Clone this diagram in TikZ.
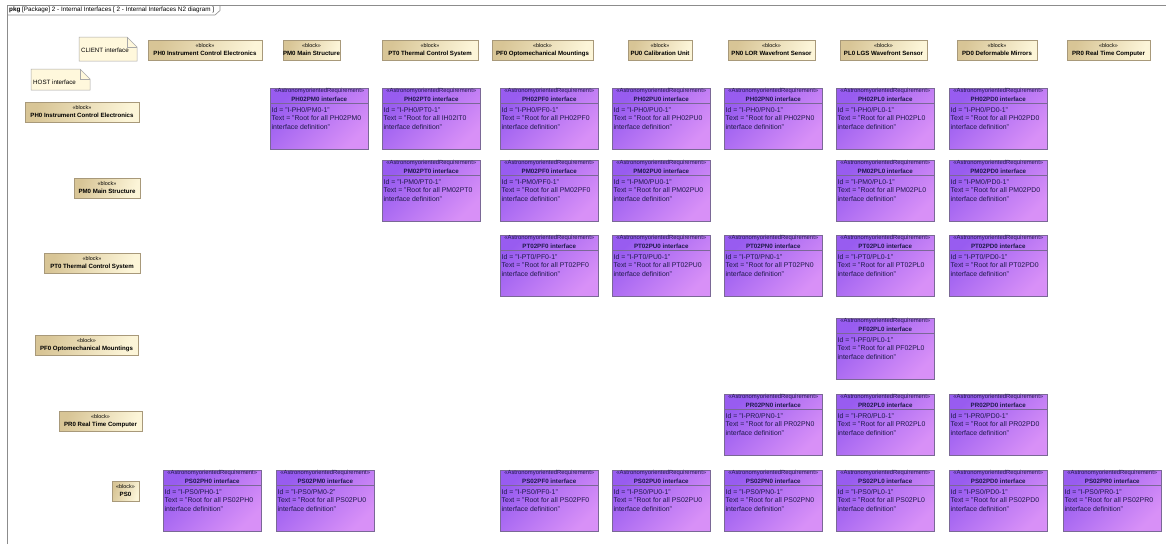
\documentclass[tikz,border=0pt]{standalone}
\usepackage{fontspec}
\setmainfont{Liberation Sans}
\usetikzlibrary{shadows,calc}
\definecolor{reqA}{HTML}{985CF0}
\definecolor{reqB}{HTML}{D890F7}
\definecolor{reqEdge}{HTML}{7A6896}
\definecolor{reqInk}{HTML}{1E1A4A}
\definecolor{blkA}{HTML}{D8C596}
\definecolor{blkB}{HTML}{FCF5D8}
\definecolor{blkEdge}{HTML}{A8997A}
\definecolor{noteFill}{HTML}{FFF8DC}
\definecolor{noteEdge}{HTML}{A8A8A8}
\definecolor{frameEdge}{HTML}{8C8C8C}
\tikzset{
  req/.style={rectangle, draw=reqEdge, line width=0.5pt, top color=reqA, bottom color=reqB, shading angle=45,
    minimum width=98pt, minimum height=61pt, inner sep=0pt,
    drop shadow={shadow xshift=1.2pt, shadow yshift=-1.2pt, fill=black, opacity=0.3}},
  reqst/.style={inner sep=0pt, text=reqInk, font=\fontsize{5.9}{7}\selectfont},
  reqnm/.style={inner sep=0pt, text=reqInk, font=\fontsize{6.2}{7}\selectfont\bfseries},
  reqbd/.style={inner sep=0pt, text=reqInk, font=\fontsize{6.9}{8}\selectfont},
  reqsep/.style={draw=reqEdge, line width=0.5pt},
  blk/.style={rectangle, draw=blkEdge, line width=0.5pt, left color=blkA, right color=blkB, shading angle=70,
    inner sep=0pt, drop shadow={shadow xshift=1.2pt, shadow yshift=-1.2pt, fill=black, opacity=0.3}},
  blkst/.style={inner sep=0pt, font=\fontsize{5.4}{6}\selectfont},
  blknm/.style={inner sep=0pt, font=\fontsize{6.1}{7}\selectfont\bfseries},
  notepath/.style={draw=noteEdge, fill=noteFill, line width=0.5pt},
  notetx/.style={inner sep=0pt, font=\fontsize{6.2}{7}\selectfont},
  framepath/.style={draw=frameEdge, line width=0.6pt},
  frametx/.style={inner sep=0pt, font=\fontsize{6.3}{7}\selectfont},
}
\newcommand\ReqBox[6]{%
  \node[req, anchor=north west] (#1) at (#2,#3) {};
  \node[reqst, anchor=base] (#1-s) at ([yshift=-4.6pt]#1.north) {«AstronomyorientedRequirement»};
  \node[reqnm, anchor=base] (#1-n) at ([yshift=-13pt]#1.north) {#4 interface};
  \draw[reqsep] ([yshift=-15.5pt]#1.north west) -- ([yshift=-15.5pt]#1.north east);
  \node[reqbd, anchor=base west] (#1-a) at ([xshift=1.5pt,yshift=-24pt]#1.north west) {Id = "#5"};
  \node[reqbd, anchor=base west] (#1-b) at ([xshift=1.5pt,yshift=-32.5pt]#1.north west) {Text = "Root for all #6};
  \node[reqbd, anchor=base west] (#1-c) at ([xshift=1.5pt,yshift=-41pt]#1.north west) {interface definition"};
}
\newcommand\BlockBox[6]{%
  \node[blk, minimum width={(#4-#2)*1pt}, minimum height={(#5-#3)*1pt}] (#1) at ({(#2+#4)/2},{(#3+#5)/2}) {};
  \node[blkst, anchor=base] (#1-s) at ([yshift=-7.4pt]#1.north) {«block»};
  \node[blknm, anchor=base] (#1-n) at ([yshift=-15.6pt]#1.north) {#6};
}
\newcommand\NoteBox[7]{%
  \path[notepath] (#2,#3) -- ({#4-10},#3) -- (#4,{#3+10}) -- (#4,#5) -- (#2,#5) -- cycle;
  \draw[draw=noteEdge, line width=0.5pt] ({#4-10},#3) -- ({#4-10},{#3+10}) -- (#4,{#3+10});
  \node[notetx, anchor=west] (#1) at ({#2+2},#7) {#6};
}
\begin{document}
\begin{tikzpicture}[x=1pt,y=-1pt]
\useasboundingbox (0,0) rectangle (1166,544);
\fill[white] (0,0) rectangle (1166,544);
% frame
\draw[framepath] (7,544) -- (7,5) -- (1166,5);
\draw[framepath] (7,15) -- (215,15) -- (220,10.5) -- (220,5);
\node[frametx, anchor=west] (frametitle) at (9,10.3) {\textbf{pkg} [Package] 2 - Internal Interfaces [ 2 - Internal Interfaces  N2 diagram ]};
% notes
\NoteBox{client}{79}{37}{137}{61}{CLIENT interface}{50}
\NoteBox{host}{31}{69}{90}{90}{HOST interface}{82}
% column headers
\BlockBox{cPH}{148}{40}{262}{60}{PH0 Instrument Control Electronics}
\BlockBox{cPM}{283}{40}{340}{60}{PM0 Main Structure}
\BlockBox{cPT}{382}{40}{478}{60}{PT0 Thermal Control System}
\BlockBox{cPF}{492}{40}{593}{60}{PF0 Optomechanical Mountings}
\BlockBox{cPU}{628}{40}{692}{60}{PU0 Calibration Unit}
\BlockBox{cPN}{728}{40}{815}{60}{PN0 LOR Wavefront Sensor}
\BlockBox{cPL}{840}{40}{927}{60}{PL0 LGS Wavefront Sensor}
\BlockBox{cPD}{957}{40}{1037}{60}{PD0 Deformable Mirrors}
\BlockBox{cPR}{1067}{40}{1150}{60}{PR0 Real Time Computer}
% row headers
\BlockBox{rPH}{25}{102}{139}{122}{PH0 Instrument Control Electronics}
\BlockBox{rPM}{74}{178}{140}{198}{PM0 Main Structure}
\BlockBox{rPT}{44}{253}{140}{273}{PT0 Thermal Control System}
\BlockBox{rPF}{35}{335}{138}{355}{PF0 Optomechanical Mountings}
\BlockBox{rPR}{59}{411}{142}{431}{PR0 Real Time Computer}
\BlockBox{rPS}{112}{481}{139}{501}{PS0}
% row PH0
\ReqBox{PHPM}{270}{88}{PH02PM0}{I-PH0/PM0-1}{PH02PM0}
\ReqBox{PHPT}{382}{88}{PH02PT0}{I-PH0/PT0-1}{IH02IT0}
\ReqBox{PHPF}{500}{88}{PH02PF0}{I-PH0/PF0-1}{PH02PF0}
\ReqBox{PHPU}{612}{88}{PH02PU0}{I-PH0/PU0-1}{PH02PU0}
\ReqBox{PHPN}{724}{88}{PH02PN0}{I-PH0/PN0-1}{PH02PN0}
\ReqBox{PHPL}{836}{88}{PH02PL0}{I-PH0/PL0-1}{PH02PL0}
\ReqBox{PHPD}{949}{88}{PH02PD0}{I-PH0/PD0-1}{PH02PD0}
% row PM0
\ReqBox{PMPT}{382}{160}{PM02PT0}{I-PM0/PT0-1}{PM02PT0}
\ReqBox{PMPF}{500}{160}{PM02PF0}{I-PM0/PF0-1}{PM02PF0}
\ReqBox{PMPU}{612}{160}{PM02PU0}{I-PM0/PU0-1}{PM02PU0}
\ReqBox{PMPL}{836}{160}{PM02PL0}{I-PM0/PL0-1}{PM02PL0}
\ReqBox{PMPD}{949}{160}{PM02PD0}{I-PM0/PD0-1}{PM02PD0}
% row PT0
\ReqBox{PTPF}{500}{235}{PT02PF0}{I-PT0/PF0-1}{PT02PF0}
\ReqBox{PTPU}{612}{235}{PT02PU0}{I-PT0/PU0-1}{PT02PU0}
\ReqBox{PTPN}{724}{235}{PT02PN0}{I-PT0/PN0-1}{PT02PN0}
\ReqBox{PTPL}{836}{235}{PT02PL0}{I-PT0/PL0-1}{PT02PL0}
\ReqBox{PTPD}{949}{235}{PT02PD0}{I-PT0/PD0-1}{PT02PD0}
% row PF0
\ReqBox{PFPL}{836}{318}{PF02PL0}{I-PF0/PL0-1}{PF02PL0}
% row PR0
\ReqBox{PRPN}{724}{394}{PR02PN0}{I-PR0/PN0-1}{PR02PN0}
\ReqBox{PRPL}{836}{394}{PR02PL0}{I-PR0/PL0-1}{PR02PL0}
\ReqBox{PRPD}{949}{394}{PR02PD0}{I-PR0/PD0-1}{PR02PD0}
% row PS0
\ReqBox{PSPH}{163}{470}{PS02PH0}{I-PS0/PH0-1}{PS02PH0}
\ReqBox{PSPM}{276}{470}{PS02PM0}{I-PS0/PM0-2}{PS02PU0}
\ReqBox{PSPF}{500}{470}{PS02PF0}{I-PS0/PF0-1}{PS02PF0}
\ReqBox{PSPU}{612}{470}{PS02PU0}{I-PS0/PU0-1}{PS02PU0}
\ReqBox{PSPN}{724}{470}{PS02PN0}{I-PS0/PN0-1}{PS02PN0}
\ReqBox{PSPL}{836}{470}{PS02PL0}{I-PS0/PL0-1}{PS02PL0}
\ReqBox{PSPD}{949}{470}{PS02PD0}{I-PS0/PD0-1}{PS02PD0}
\ReqBox{PSPR}{1063}{470}{PS02PR0}{I-PS0/PR0-1}{PS02PR0}
\end{tikzpicture}
\end{document}
